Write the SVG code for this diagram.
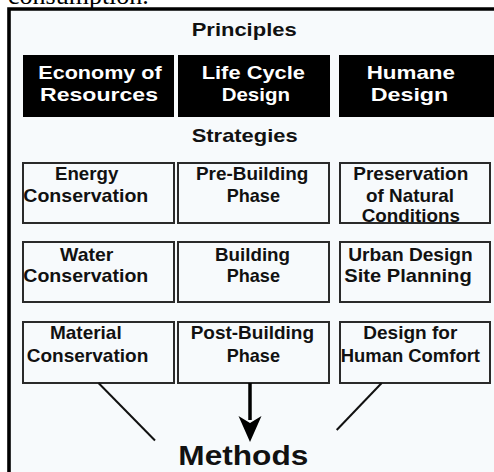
<svg xmlns="http://www.w3.org/2000/svg" width="494" height="472" viewBox="0 0 494 472">
<style>
.t{font-family:"Liberation Sans",Arial,sans-serif;font-weight:bold;font-size:18.5px;fill:#111}
.w{fill:#fff}
.bb{fill:#000}
.sb{fill:none;stroke:#2a2a2a;stroke-width:2}
.ln{stroke:#111;stroke-width:2;fill:none}
</style>
<rect x="0" y="0" width="494" height="472" fill="#fff"/>
<rect x="9" y="9" width="490" height="470" fill="#f7fafc"/>
<text x="8" y="4" font-family="Liberation Serif,serif" font-size="26" fill="#000">consumption.</text>
<path d="M9,480 V9 H500" fill="none" stroke="#000" stroke-width="3.6"/>

<text class="t" x="191.7" y="35.5" textLength="105" lengthAdjust="spacingAndGlyphs">Principles</text>

<g id="p1"><rect class="bb" x="23" y="55" width="151" height="62"/>
<text class="t w" x="38.3" y="78.5" textLength="123.4" lengthAdjust="spacingAndGlyphs">Economy of</text>
<text class="t w" x="40" y="100.5" textLength="118" lengthAdjust="spacingAndGlyphs">Resources</text></g>
<g id="p2"><rect class="bb" x="178" y="55" width="152" height="62"/>
<text class="t w" x="201.7" y="78.5" textLength="103.3" lengthAdjust="spacingAndGlyphs">Life Cycle</text>
<text class="t w" x="221.7" y="100.5" textLength="68.3" lengthAdjust="spacingAndGlyphs">Design</text></g>
<g id="p3"><rect class="bb" x="339" y="55" width="160" height="62"/>
<text class="t w" x="366.7" y="78.5" textLength="88.3" lengthAdjust="spacingAndGlyphs">Humane</text>
<text class="t w" x="370.7" y="100.5" textLength="77.6" lengthAdjust="spacingAndGlyphs">Design</text></g>

<text class="t" x="191.7" y="141.7" textLength="106" lengthAdjust="spacingAndGlyphs">Strategies</text>

<g id="s11"><rect class="sb" x="23" y="163" width="151" height="60"/>
<text class="t" x="55" y="179.5" textLength="63.3" lengthAdjust="spacingAndGlyphs">Energy</text>
<text class="t" x="23.3" y="202.3" textLength="125" lengthAdjust="spacingAndGlyphs">Conservation</text></g>
<g id="s12"><rect class="sb" x="178" y="163" width="151" height="60"/>
<text class="t" x="196" y="179.5" textLength="112.3" lengthAdjust="spacingAndGlyphs">Pre-Building</text>
<text class="t" x="226.7" y="202.3" textLength="53.3" lengthAdjust="spacingAndGlyphs">Phase</text></g>
<g id="s13"><rect class="sb" x="340" y="163" width="150" height="60"/>
<text class="t" x="353.3" y="179.5" textLength="115" lengthAdjust="spacingAndGlyphs">Preservation</text>
<text class="t" x="366" y="202.3" textLength="88" lengthAdjust="spacingAndGlyphs">of Natural</text>
<text class="t" x="361.7" y="221.7" textLength="98.3" lengthAdjust="spacingAndGlyphs">Conditions</text></g>

<g id="s21"><rect class="sb" x="23" y="242" width="151" height="60"/>
<text class="t" x="60" y="260.7" textLength="53.3" lengthAdjust="spacingAndGlyphs">Water</text>
<text class="t" x="23.3" y="281.7" textLength="125" lengthAdjust="spacingAndGlyphs">Conservation</text></g>
<g id="s22"><rect class="sb" x="178" y="242" width="151" height="60"/>
<text class="t" x="215" y="260.7" textLength="75" lengthAdjust="spacingAndGlyphs">Building</text>
<text class="t" x="226.7" y="281.7" textLength="53.3" lengthAdjust="spacingAndGlyphs">Phase</text></g>
<g id="s23"><rect class="sb" x="340" y="242" width="150" height="60"/>
<text class="t" x="348.3" y="260.7" textLength="124.4" lengthAdjust="spacingAndGlyphs">Urban Design</text>
<text class="t" x="344.3" y="281.7" textLength="127.4" lengthAdjust="spacingAndGlyphs">Site Planning</text></g>

<g id="s31"><rect class="sb" x="23" y="322" width="151" height="61"/>
<text class="t" x="50" y="339.3" textLength="71.7" lengthAdjust="spacingAndGlyphs">Material</text>
<text class="t" x="26.7" y="361.7" textLength="121.6" lengthAdjust="spacingAndGlyphs">Conservation</text></g>
<g id="s32"><rect class="sb" x="178" y="322" width="151" height="61"/>
<text class="t" x="190.7" y="339.3" textLength="123.3" lengthAdjust="spacingAndGlyphs">Post-Building</text>
<text class="t" x="226.7" y="361.7" textLength="53.3" lengthAdjust="spacingAndGlyphs">Phase</text></g>
<g id="s33"><rect class="sb" x="340" y="322" width="150" height="61"/>
<text class="t" x="363.3" y="339.3" textLength="94" lengthAdjust="spacingAndGlyphs">Design for</text>
<text class="t" x="340.7" y="361.7" textLength="139.3" lengthAdjust="spacingAndGlyphs">Human Comfort</text></g>

<g id="connectors">
<line class="ln" x1="98.5" y1="383" x2="155" y2="440.5"/>
<line class="ln" x1="381.7" y1="383" x2="336.7" y2="430"/>
<line x1="250" y1="383" x2="250" y2="420" stroke="#000" stroke-width="3.5"/>
<polygon points="238.5,416 250,423 261.5,416 250,442" fill="#000"/>
</g>

<g id="methods"><text class="t" style="font-size:28px" x="178.3" y="465" textLength="130" lengthAdjust="spacingAndGlyphs">Methods</text></g>
</svg>
